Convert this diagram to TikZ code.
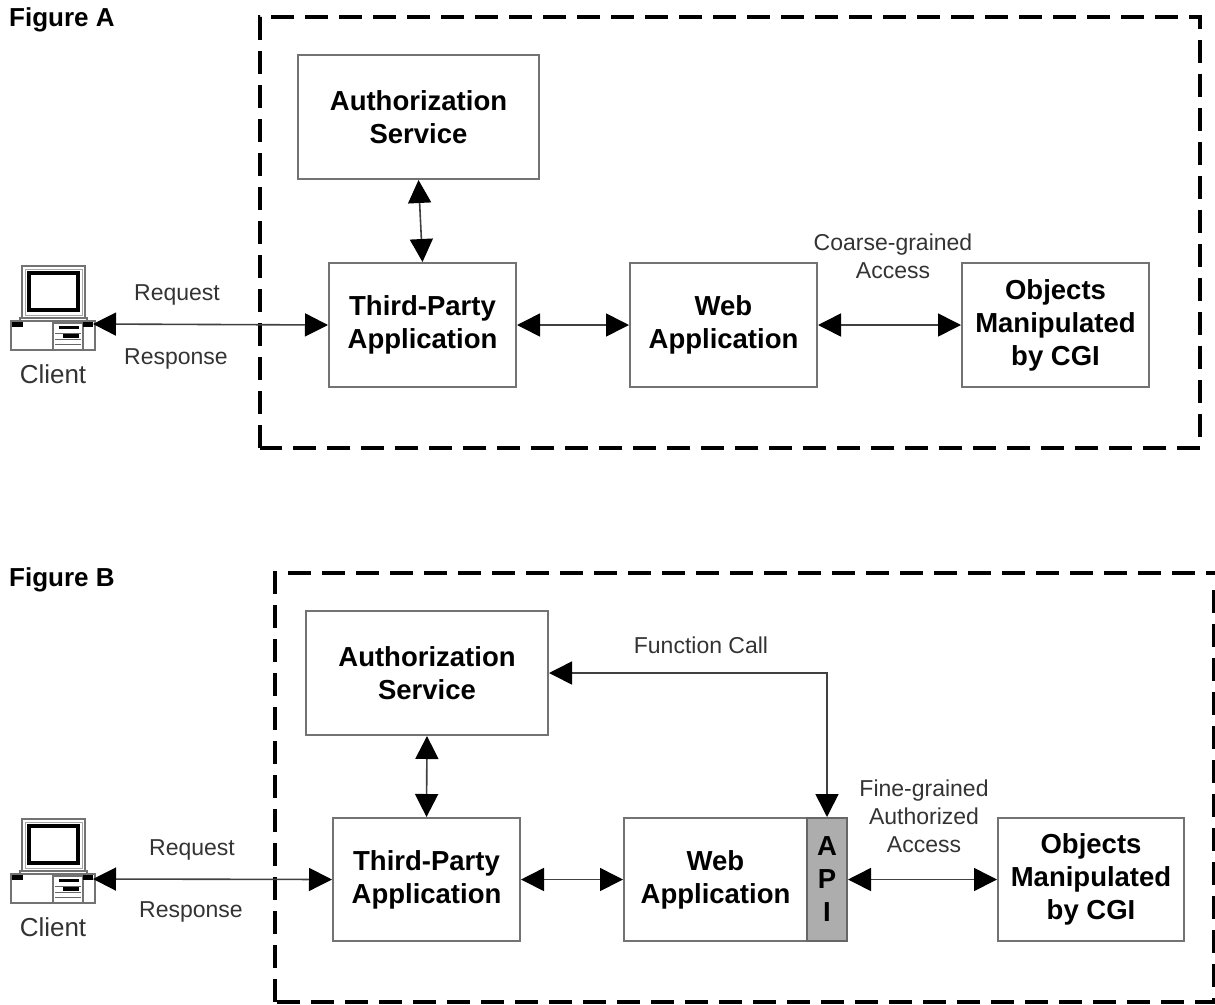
\documentclass[tikz,border=0pt]{standalone}
\usepackage{fontspec}
\setmainfont{Liberation Sans}
\usetikzlibrary{arrows.meta}
\definecolor{boxline}{gray}{0.45}
\definecolor{lbl}{gray}{0.2}
\definecolor{apifill}{gray}{0.68}
\tikzset{
  x=1pt,y=-1pt,
  box/.style={draw=boxline,line width=2pt,fill=white,inner sep=0pt,align=center,
    font=\fontsize{27.5}{33}\selectfont\bfseries},
  apibox/.style={box,fill=apifill,draw=black!60},
  dashbox/.style={draw=black,line width=3.4pt,dash pattern=on 23pt off 11pt},
  link/.style={draw=black!75,line width=1.6pt,{Triangle[length=23pt,width=23pt,black]}-{Triangle[length=23pt,width=23pt,black]}},
  lab/.style={font=\fontsize{23}{28}\selectfont,text=lbl,inner sep=0pt,align=center},
  head/.style={font=\fontsize{26}{30}\selectfont\bfseries,inner sep=0pt,anchor=west},
  pcl/.style={draw=black!55,line width=1.3pt,fill=white},
  pc/.pic={
    \draw[pcl] (-31,-58) rectangle (32,-6);
    \draw[black!35,line width=1pt] (-28,-55) rectangle (29,-9);
    \draw[draw=black,line width=4.4pt,fill=white] (-24,-51) rectangle (25,-14);
    \draw[pcl] (-33,-6) rectangle (34,-3);
    \draw[pcl] (-42,-3) rectangle (42,26);
    \draw[pcl] (0,-1) rectangle (30,26);
    \fill[black] (6,2) rectangle (26,5);
    \fill[black] (10,9) rectangle (26,14);
    \draw[black!60,line width=1pt] (2,9) -- (28,9) (2,15) -- (28,15) (2,20) -- (28,20);
    \fill[black] (-41,-2) rectangle (-30,3);
    \fill[black] (30,-2) rectangle (40,3);
  }
}
\begin{document}
\begin{tikzpicture}
\useasboundingbox (0,0) rectangle (1215,1004);
% Figure A
\node[head] (figA) at (9,20) {Figure A};
\draw[dashbox] (260,448) -- (260,17) -- (1200,17) -- (1200,448) -- cycle;
\pic at (53,324) {pc};
\coordinate (clientA) at (93,324);
\node[lab,font=\fontsize{26}{30}\selectfont] (clA) at (53,374) {Client};
\node[box,minimum width=241pt,minimum height=124pt] (authA) at (418.5,117) {Authorization\\Service};
\node[box,minimum width=187pt,minimum height=124pt] (thirdA) at (422.5,325) {Third-Party\\Application};
\node[box,minimum width=187pt,minimum height=124pt] (webA) at (723.5,325) {Web\\Application};
\node[box,minimum width=187pt,minimum height=124pt] (objA) at (1055.5,325) {Objects\\Manipulated\\by CGI};
\draw[link] (clientA) -- (thirdA.west);
\draw[link] (authA.south) -- (thirdA.north);
\draw[link] (thirdA.east) -- (webA.west);
\draw[link] (webA.east) -- (objA.west);
\node[lab] (reqA) at (177,295) {Request};
\node[lab] (resA) at (176,359) {Response};
\node[lab] (cgA) at (893,256) {Coarse-grained\\Access};
% Figure B
\node[head] (figB) at (9,580) {Figure B};
\draw[dashbox] (275,1002) -- (275,573) -- (1215,573);
\draw[dashbox] (1214,590) -- (1214,1002) -- (275,1002);
\pic at (53,877) {pc};
\coordinate (clientB) at (93,879);
\node[lab,font=\fontsize{26}{30}\selectfont] (clB) at (53,927) {Client};
\node[box,minimum width=242pt,minimum height=124pt] (authB) at (427,673) {Authorization\\Service};
\node[box,minimum width=187pt,minimum height=123pt] (thirdB) at (426.5,879.5) {Third-Party\\Application};
\node[box,minimum width=183pt,minimum height=123pt] (webB) at (715.5,879.5) {Web\\Application};
\node[apibox,minimum width=40pt,minimum height=123pt] (apiB) at (827,879.5) {A\\P\\I};
\node[box,minimum width=186pt,minimum height=123pt] (objB) at (1091,879.5) {Objects\\Manipulated\\by CGI};
\draw[link] (clientB) -- (thirdB.west);
\draw[link] (authB.south) -- (thirdB.north);
\draw[link] (thirdB.east) -- (webB.west);
\draw[link] (apiB.east) -- (objB.west);
\draw[link] (apiB.north) |- (authB.east);
\node[lab] (reqB) at (192,850) {Request};
\node[lab] (resB) at (191,912) {Response};
\node[lab] (fcB) at (701,645) {Function Call};
\node[lab] (fgB) at (924,816) {Fine-grained\\Authorized\\Access};
\end{tikzpicture}
\end{document}
